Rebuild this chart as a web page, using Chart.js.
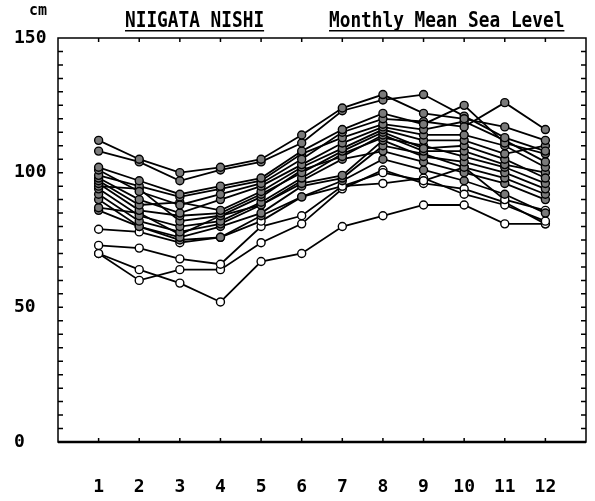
<!DOCTYPE html>
<html>
<head>
<meta charset="utf-8">
<script src="https://cdn.jsdelivr.net/npm/chart.js@4.4.1/dist/chart.umd.min.js"></script>
<style>
  html, body { margin: 0; padding: 0; background: #fff; }
  #wrap { width: 595px; height: 501px; position: relative; }
</style>
</head>
<body>
<div id="wrap"><canvas id="seaLevel"></canvas></div>
<script>
// months on the x axis
var months = [1, 2, 3, 4, 5, 6, 7, 8, 9, 10, 11, 12];
var yTickLabels = [0, 50, 100, 150];

// monthly mean sea level (cm), one array per year
var year01 = [112, 105, 100, 102, 105, 114, 124, 129, 122, 120, 117, 112];
var year02 = [108, 104, 97, 101, 104, 111, 123, 127, 129, 121, 113, 108];
var year03 = [102, 97, 92, 95, 98, 108, 116, 122, 118, 125, 111, 107];
var year04 = [101, 93, 88, 92, 96, 105, 115, 120, 119, 117, 126, 116];
var year05 = [99, 95, 91, 94, 97, 107, 113, 118, 116, 119, 112, 104];
var year06 = [98, 90, 85, 90, 95, 103, 111, 117, 114, 114, 110, 102];
var year07 = [97, 88, 89, 86, 93, 102, 109, 116, 112, 112, 107, 110];
var year08 = [96, 86, 84, 85, 92, 100, 108, 115, 109, 110, 105, 98];
var year09 = [95, 94, 82, 84, 91, 101, 106, 114, 108, 108, 103, 100];
var year10 = [94, 84, 80, 82, 89, 98, 107, 113, 110, 106, 102, 96];
var year11 = [92, 82, 78, 81, 88, 96, 99, 112, 106, 104, 100, 94];
var year12 = [90, 80, 76, 80, 85, 95, 98, 110, 107, 102, 98, 92];
var year13 = [87, 85, 77, 84, 88, 97, 105, 108, 104, 100, 96, 90];
var year14 = [86, 80, 75, 76, 84, 91, 97, 105, 101, 97, 92, 85];
var year15 = [79, 78, 74, 76, 82, 91, 95, 100, 97, 102, 90, 86];
var year16 = [73, 72, 68, 66, 80, 84, 95, 96, 98, 92, 88, 82];
var year17 = [70, 64, 59, 52, 67, 70, 80, 84, 88, 88, 81, 81];
var year18 = [70, 60, 64, 64, 74, 81, 94, 101, 96, 94, 89, 81];

var filledYears = [year01, year02, year03, year04, year05, year06, year07, year08, year09,
                   year10, year11, year12, year13, year14];
var openYears = [year15, year16, year17, year18];

var FONT = "'DejaVu Sans Mono', 'Liberation Mono', monospace";

function toPoints(vals) {
  return vals.map(function (v, i) { return { x: months[i], y: v }; });
}

var datasets = [];
filledYears.forEach(function (vals) {
  datasets.push({ data: toPoints(vals), pointBackgroundColor: '#7a7a7a' });
});
openYears.forEach(function (vals) {
  datasets.push({ data: toPoints(vals), pointBackgroundColor: '#ffffff' });
});
datasets.forEach(function (ds) {
  ds.borderColor = '#000';
  ds.borderWidth = 1.8;
  ds.pointBorderColor = '#000';
  ds.pointBorderWidth = 1.4;
  ds.pointRadius = 4;
  ds.tension = 0;
  ds.fill = false;
});

// frame, inward ticks and the header texts
var framePlugin = {
  id: 'frame',
  afterDraw: function (chart) {
    var ctx = chart.ctx, a = chart.chartArea;
    var xs = chart.scales.x, ys = chart.scales.y;
    ctx.save();
    ctx.strokeStyle = '#000';
    ctx.lineWidth = 1.5;
    ctx.strokeRect(a.left, a.top, a.right - a.left, a.bottom - a.top);
    ctx.lineWidth = 2.5;
    ctx.beginPath();
    ctx.moveTo(a.left, a.bottom);
    ctx.lineTo(a.right, a.bottom);
    ctx.stroke();

    ctx.lineWidth = 1.5;
    ctx.beginPath();
    for (var v = 5; v < 150; v += 5) {
      var py = ys.getPixelForValue(v);
      ctx.moveTo(a.left, py); ctx.lineTo(a.left + 5, py);
      ctx.moveTo(a.right, py); ctx.lineTo(a.right - 5, py);
    }
    months.forEach(function (m) {
      var px = xs.getPixelForValue(m);
      ctx.moveTo(px, a.bottom); ctx.lineTo(px, a.bottom - 4);
      ctx.moveTo(px, a.top); ctx.lineTo(px, a.top + 4);
    });
    ctx.stroke();

    ctx.fillStyle = '#000';
    ctx.textBaseline = 'alphabetic';
    ctx.font = 'bold 15px ' + FONT;
    ctx.fillText('cm', 29, 15);
    ctx.font = 'bold 18px ' + FONT;
    var heads = [['NIIGATA NISHI', 125], ['Monthly Mean Sea Level', 329]];
    heads.forEach(function (h) {
      var w = ctx.measureText(h[0]).width;
      ctx.save();
      ctx.translate(h[1], 27);
      ctx.scale((h[0].length * 10.7) / w, 1.15);
      ctx.fillText(h[0], 0, 0);
      ctx.restore();
      ctx.fillRect(h[1], 30, h[0].length * 10.7, 1.5);
    });
    ctx.restore();
  }
};

new Chart(document.getElementById('seaLevel').getContext('2d'), {
  type: 'line',
  data: { datasets: datasets },
  plugins: [framePlugin],
  options: {
    responsive: true,
    maintainAspectRatio: false,
    animation: false,
    layout: { padding: { top: 38, right: 9, left: 14, bottom: 0 } },
    plugins: { legend: { display: false }, tooltip: { enabled: false } },
    scales: {
      x: {
        type: 'linear',
        min: 0,
        max: 13,
        afterBuildTicks: function (scale) {
          scale.ticks = months.map(function (m) { return { value: m }; });
        },
        afterFit: function (scale) { scale.height = 59; },
        grid: { display: false },
        border: { display: false },
        ticks: { color: '#000', padding: 27, maxRotation: 0, font: { family: FONT, size: 18, weight: 'bold' } }
      },
      y: {
        min: 0,
        max: 150,
        afterBuildTicks: function (scale) {
          scale.ticks = yTickLabels.map(function (v) { return { value: v }; });
        },
        afterFit: function (scale) { scale.width = 44; },
        grid: { display: false },
        border: { display: false },
        ticks: { color: '#000', crossAlign: 'far', padding: 4, font: { family: FONT, size: 18, weight: 'bold' } }
      }
    }
  }
});
</script>
</body>
</html>
